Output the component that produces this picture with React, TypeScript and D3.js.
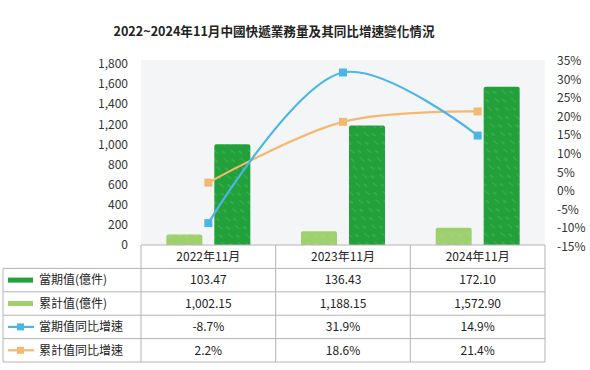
import React from "react";
import * as d3 from "d3";

const categories = ["2022年11月", "2023年11月", "2024年11月"];
const currentValues = [103.47, 136.43, 172.1];
const cumulativeValues = [1002.15, 1188.15, 1572.9];
const currentGrowth = [-8.7, 31.9, 14.9];
const cumulativeGrowth = [2.2, 18.6, 21.4];
const leftTicks = [0, 200, 400, 600, 800, 1000, 1200, 1400, 1600, 1800];
const rightTicks = [-15, -10, -5, 0, 5, 10, 15, 20, 25, 30, 35];
const rowLabels = ["當期值(億件)", "累計值(億件)", "當期值同比增速", "累計值同比增速"];

const W = 590, H = 370;
const plotL = 141, plotR = 545, plotT = 60, plotB = 245;
const FONT = '"Noto Sans CJK TC", "Noto Sans", sans-serif';
const DARK = "#22a03a";
const LIGHT = "#9fd06e";
const BLUE = "#4bb6e6";
const ORANGE = "#f5b871";

export default function App() {
  const x0 = d3.scaleBand<string>().domain(categories).range([plotL, plotR]);
  const x1 = d3.scaleBand<string>().domain(["light", "dark"]).range([-42, 42]).paddingInner(0.25);
  const yL = d3.scaleLinear().domain([0, 1800]).range([245, 64]);
  const yR = d3.scaleLinear().domain([-15, 35]).range([246.5, 61]);
  const cx = (c: string) => (x0(c) as number) + x0.bandwidth() / 2;

  const line = d3.line<[number, number]>().x(d => d[0]).y(d => d[1]).curve(d3.curveCatmullRom.alpha(0.5));
  const bluePts: [number, number][] = categories.map((c, i) => [cx(c), yR(currentGrowth[i])]);
  const orangePts: [number, number][] = categories.map((c, i) => [cx(c), yR(cumulativeGrowth[i])]);

  const barPath = (x: number, y: number, w: number, h: number, r = 2) =>
    `M${x},${y + h}V${y + r}Q${x},${y} ${x + r},${y}H${x + w - r}Q${x + w},${y} ${x + w},${y + r}V${y + h}Z`;

  const rowTop = 245, rowH = 23.4;
  const tableL = 3;
  const fmt2 = d3.format(",.2f");
  const rowVals = [
    currentValues.map(v => fmt2(v)),
    cumulativeValues.map(v => fmt2(v)),
    currentGrowth.map(v => v.toFixed(1) + "%"),
    cumulativeGrowth.map(v => v.toFixed(1) + "%"),
  ];
  const gridColor = "#b4b4b4";

  return (
    <svg width={W} height={H} style={{ position: "absolute", left: 0, top: 0, background: "#fff" }} fontFamily={FONT}>
      <defs>
        <pattern id="hatch" width="11" height="13" patternUnits="userSpaceOnUse" patternTransform="rotate(-50)">
          <line x1="0" y1="0" x2="0" y2="6" stroke="#ffffff" strokeWidth="0.7" opacity="0.4" />
          <line x1="5" y1="7" x2="5" y2="11" stroke="#ffffff" strokeWidth="0.7" opacity="0.3" />
        </pattern>
      </defs>
      <text x={274} y={36} textAnchor="middle" fontSize={12.6} fontWeight="bold" fill="#222">
        2022~2024年11月中國快遞業務量及其同比增速變化情況
      </text>
      <rect x={plotL} y={plotT} width={plotR - plotL} height={plotB - plotT} fill="#f4f5f7" />
      {leftTicks.map(t => (
        <text key={"l" + t} x={128} y={yL(t)} dy="0.35em" textAnchor="end" fontSize={12} fill="#333">
          {d3.format(",")(t)}
        </text>
      ))}
      {rightTicks.map(t => (
        <text key={"r" + t} x={557} y={yR(t)} dy="0.35em" textAnchor="start" fontSize={12} fill="#333">
          {t + "%"}
        </text>
      ))}
      {categories.map((c, i) => {
        const lx = cx(c) + (x1("light") as number);
        const dx = cx(c) + (x1("dark") as number);
        const bw = x1.bandwidth();
        const ly = yL(currentValues[i]);
        const dy = yL(cumulativeValues[i]);
        return (
          <g key={c}>
            <path d={barPath(lx, ly, bw, plotB - ly)} fill={LIGHT} />
            <path d={barPath(lx, ly, bw, plotB - ly)} fill="url(#hatch)" opacity={0.6} />
            <path d={barPath(dx, dy, bw, plotB - dy)} fill={DARK} />
            <path d={barPath(dx, dy, bw, plotB - dy)} fill="url(#hatch)" />
          </g>
        );
      })}
      <path d={line(orangePts) || ""} fill="none" stroke={ORANGE} strokeWidth={2.2} />
      <path d={line(bluePts) || ""} fill="none" stroke={BLUE} strokeWidth={2.2} />
      {orangePts.map((p, i) => (
        <rect key={"o" + i} x={p[0] - 4} y={p[1] - 4} width={8} height={8} fill={ORANGE} />
      ))}
      {bluePts.map((p, i) => (
        <rect key={"b" + i} x={p[0] - 4} y={p[1] - 4} width={8} height={8} fill={BLUE} />
      ))}
      <line x1={plotL} x2={plotR} y1={plotB} y2={plotB} stroke={gridColor} />
      {[plotL, ...categories.map(c => (x0(c) as number) + x0.bandwidth())].map((x, i) => (
        <line key={"v" + i} x1={x} x2={x} y1={rowTop} y2={rowTop + rowH * 5} stroke={gridColor} />
      ))}
      <line x1={tableL} x2={tableL} y1={rowTop + rowH} y2={rowTop + rowH * 5} stroke={gridColor} />
      {[1, 2, 3, 4, 5].map(r => (
        <line key={"h" + r} x1={tableL} x2={plotR} y1={rowTop + rowH * r} y2={rowTop + rowH * r} stroke={gridColor} />
      ))}
      {categories.map(c => (
        <text key={"hc" + c} x={cx(c)} y={rowTop + rowH / 2} dy="0.35em" textAnchor="middle" fontSize={12} fill="#222">
          {c}
        </text>
      ))}
      {rowLabels.map((lab, r) => {
        const y = rowTop + rowH * (r + 1) + rowH / 2;
        let key: React.ReactNode;
        if (r === 0) key = <rect x={8} y={y - 2.5} width={25} height={5} fill={DARK} />;
        else if (r === 1) key = <rect x={8} y={y - 2.5} width={25} height={5} fill={LIGHT} />;
        else {
          const col = r === 2 ? BLUE : ORANGE;
          key = (
            <g>
              <line x1={8} x2={34} y1={y} y2={y} stroke={col} strokeWidth={2.2} />
              <rect x={17} y={y - 3.5} width={7} height={7} fill={col} />
            </g>
          );
        }
        return (
          <g key={lab}>
            {key}
            <text x={39} y={y} dy="0.35em" fontSize={12} fill="#222">{lab}</text>
            {categories.map((c, i) => (
              <text key={c} x={cx(c)} y={y} dy="0.35em" textAnchor="middle" fontSize={12} fill="#222">
                {rowVals[r][i]}
              </text>
            ))}
          </g>
        );
      })}
    </svg>
  );
}
